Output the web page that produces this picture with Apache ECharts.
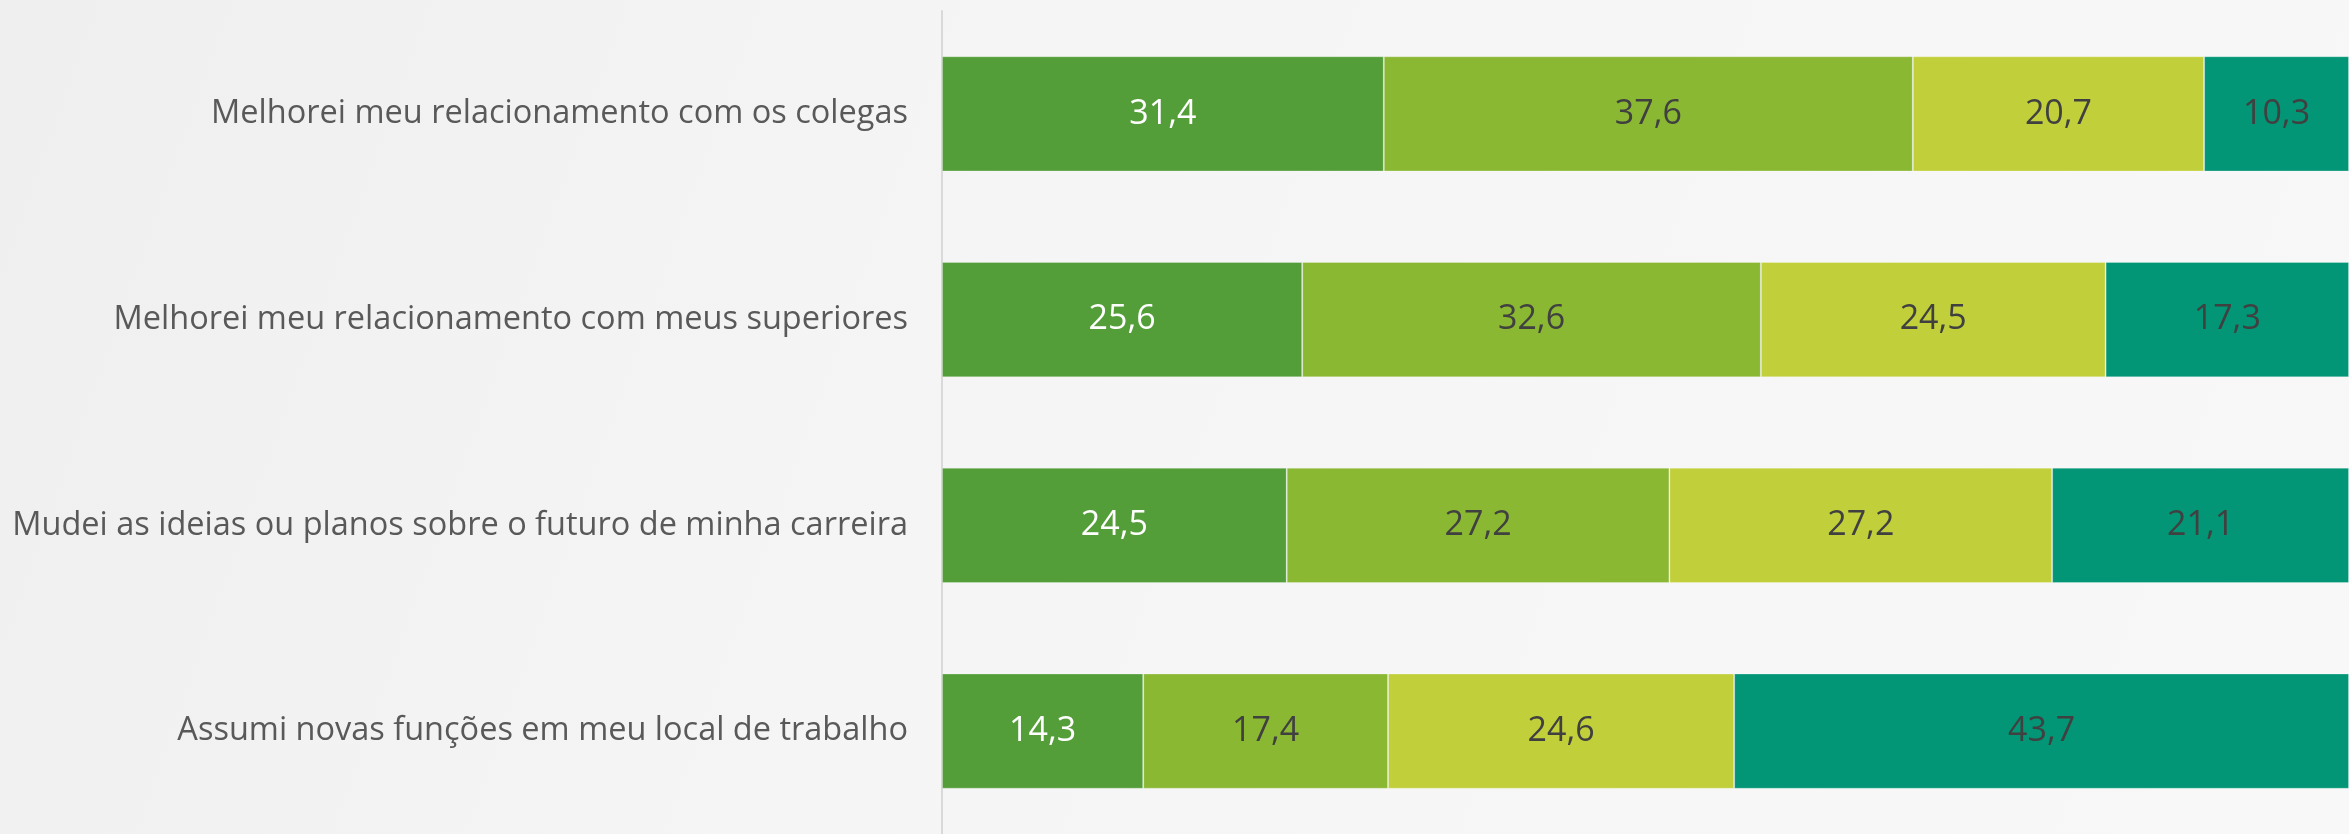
<!DOCTYPE html>
<html>
<head>
<meta charset="utf-8">
<script src="https://cdn.jsdelivr.net/npm/echarts@6/dist/echarts.min.js"></script>
<style>
  html, body { margin: 0; padding: 0; }
  #chart { width: 2349px; height: 834px; }
</style>
</head>
<body>
<div id="chart"></div>
<script>
const categories = [
  'Melhorei meu relacionamento com os colegas',
  'Melhorei meu relacionamento com meus superiores',
  'Mudei as ideias ou planos sobre o futuro de minha carreira',
  'Assumi novas funções em meu local de trabalho'
]
const serie1 = [31.4, 25.6, 24.5, 14.3]
const serie2 = [37.6, 32.6, 27.2, 17.4]
const serie3 = [20.7, 24.5, 27.2, 24.6]
const serie4 = [10.3, 17.3, 21.1, 43.7]

const colors = ['#549E39', '#8AB833', '#C0CF3A', '#029676']
const labelColors = ['#ffffff', '#404040', '#404040', '#404040']
const font = '"Open Sans", sans-serif'

const chart = echarts.init(document.getElementById('chart'))

// uma série por faixa, empilhadas
const series = [serie1, serie2, serie3, serie4].map((data, i) => ({
  type: 'bar',
  stack: 'total',
  data: data,
  barWidth: '56%',
  itemStyle: { color: colors[i], borderColor: 'rgba(255,255,255,0.25)', borderWidth: 1 },
  label: {
    show: true,
    position: 'inside',
    color: labelColors[i],
    fontFamily: font,
    fontSize: 34,
    formatter: p => p.value.toFixed(1).replace('.', ',')
  }
}))

chart.setOption({
  backgroundColor: {
    type: 'linear', x: 0, y: 0, x2: 1, y2: 1,
    colorStops: [
      { offset: 0, color: '#efefef' },
      { offset: 0.4, color: '#f5f5f5' },
      { offset: 1, color: '#f8f8f8' }
    ]
  },
  animation: false,
  grid: { left: 942, right: 0, top: 11, height: 830 },
  xAxis: { type: 'value', min: 0, max: 100, show: false },
  yAxis: {
    type: 'category',
    inverse: true,
    data: categories,
    axisLine: { show: true, lineStyle: { color: '#d9d9d9', width: 2 } },
    axisTick: { show: false },
    axisLabel: { color: '#595959', fontFamily: font, fontSize: 32.5, margin: 34 }
  },
  series: series
})
</script>
</body>
</html>
